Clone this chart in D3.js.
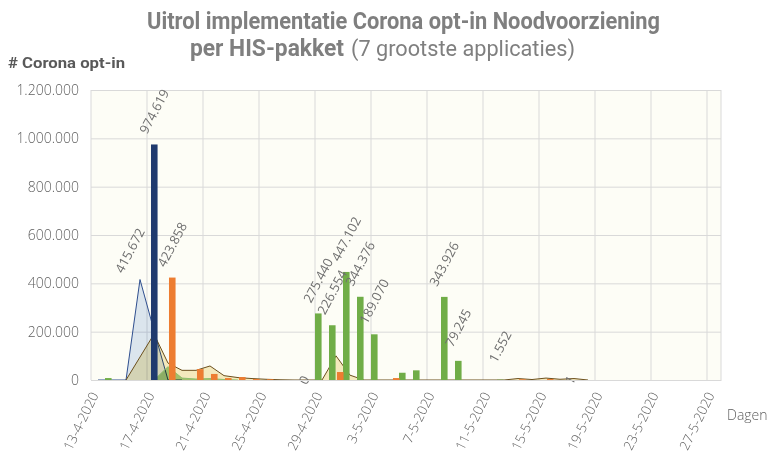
<!DOCTYPE html>
<html>
<head>
<meta charset="utf-8">
<script src="https://cdn.jsdelivr.net/npm/d3@7"></script>
<style>
  body { margin: 0; background: #ffffff; }
  svg { display: block; font-family: Roboto, "Open Sans", sans-serif; }
</style>
</head>
<body>
<svg id="chart" width="767" height="455"></svg>
<script>
// dagen op de x-as
var days = [
    "13-4-2020", "14-4-2020", "15-4-2020", "16-4-2020", "17-4-2020", "18-4-2020",
    "19-4-2020", "20-4-2020", "21-4-2020", "22-4-2020", "23-4-2020", "24-4-2020",
    "25-4-2020", "26-4-2020", "27-4-2020", "28-4-2020", "29-4-2020", "30-4-2020",
    "1-5-2020", "2-5-2020", "3-5-2020", "4-5-2020", "5-5-2020", "6-5-2020",
    "7-5-2020", "8-5-2020", "9-5-2020", "10-5-2020", "11-5-2020", "12-5-2020",
    "13-5-2020", "14-5-2020", "15-5-2020", "16-5-2020", "17-5-2020", "18-5-2020",
    "19-5-2020", "20-5-2020", "21-5-2020", "22-5-2020", "23-5-2020", "24-5-2020",
    "25-5-2020", "26-5-2020", "27-5-2020"
];
var tickDays = ["13-4-2020", "17-4-2020", "21-4-2020", "25-4-2020", "29-4-2020", "3-5-2020",
    "7-5-2020", "11-5-2020", "15-5-2020", "19-5-2020", "23-5-2020", "27-5-2020"];
var yTicks = [0, 200000, 400000, 600000, 800000, 1000000, 1200000];

// [dag, aantal, label: "boven" | "as"]
var blauwBars = [["17-4-2020", 974619, "boven"]];
var oranjeBars = [
    ["18-4-2020", 423858, "boven"], ["20-4-2020", 45000], ["21-4-2020", 25000],
    ["22-4-2020", 8000], ["23-4-2020", 12000], ["24-4-2020", 4000], ["25-4-2020", 3000],
    ["30-4-2020", 33000], ["4-5-2020", 8000], ["13-5-2020", 3000], ["15-5-2020", 4000]
];
var groenBars = [
    ["14-4-2020", 8000], ["28-4-2020", 0, "as"], ["29-4-2020", 275440, "boven"],
    ["30-4-2020", 226554, "boven"], ["1-5-2020", 447102, "boven"], ["2-5-2020", 344376, "boven"],
    ["3-5-2020", 189070, "boven"], ["5-5-2020", 30000], ["6-5-2020", 40000],
    ["8-5-2020", 343926, "boven"], ["9-5-2020", 79245, "boven"], ["12-5-2020", 1552, "boven"],
    ["17-5-2020", 1, "as"]
];
var lichtblauwArea = [
    ["13-4-2020", 0], ["14-4-2020", 0], ["15-4-2020", 0], ["16-4-2020", 415672, "boven"],
    ["17-4-2020", 205000], ["18-4-2020", 0], ["19-4-2020", 0]
];
var beigeArea = [
    ["15-4-2020", 0], ["16-4-2020", 95000], ["17-4-2020", 190000], ["18-4-2020", 70000],
    ["19-4-2020", 40000], ["20-4-2020", 40000], ["21-4-2020", 58000], ["22-4-2020", 18000],
    ["23-4-2020", 10000], ["24-4-2020", 6000], ["25-4-2020", 3000], ["26-4-2020", 1000],
    ["27-4-2020", 0], ["28-4-2020", 0], ["29-4-2020", 0], ["30-4-2020", 100000],
    ["1-5-2020", 20000], ["2-5-2020", 0], ["3-5-2020", 0], ["4-5-2020", 0],
    ["5-5-2020", 0], ["6-5-2020", 0], ["7-5-2020", 0], ["8-5-2020", 0], ["9-5-2020", 0],
    ["10-5-2020", 0], ["11-5-2020", 0], ["12-5-2020", 0], ["13-5-2020", 6000],
    ["14-5-2020", 2000], ["15-5-2020", 8000], ["16-5-2020", 3000], ["17-5-2020", 6000],
    ["18-5-2020", 0]
];
var groenArea = [
    ["17-4-2020", 0], ["18-4-2020", 55000], ["19-4-2020", 8000], ["20-4-2020", 4000],
    ["21-4-2020", 6000], ["22-4-2020", 2000], ["23-4-2020", 0]
];

var fmt = d3.formatLocale({decimal: ",", thousands: ".", grouping: [3], currency: ["€", ""]}).format(",d");

var svg = d3.select("#chart");
var plotLeft = 91, plotRight = 721, plotTop = 90, plotBottom = 380;

var x = d3.scaleBand().domain(days).range([plotLeft, plotRight]).padding(0);
var y = d3.scaleLinear().domain([0, 1200000]).range([plotBottom, plotTop]);
var bw = x.bandwidth();
var sub = d3.scalePoint().domain(["groen", "blauw", "oranje"]).range([0, bw * 0.57]);
var barW = bw * 0.47;

var toObj = function(d) { return {day: d[0], value: d[1], label: d[2]}; };

// plot achtergrond
svg.append("rect")
    .attr("x", plotLeft).attr("y", plotTop)
    .attr("width", plotRight - plotLeft).attr("height", plotBottom - plotTop)
    .attr("fill", "#fdfdf6");

// y as + horizontale rasterlijnen
var yAxis = svg.append("g")
    .attr("transform", "translate(" + plotLeft + ",0)")
    .call(d3.axisLeft(y).tickValues(yTicks).tickFormat(fmt).tickSize(-(plotRight - plotLeft)).tickPadding(12));
yAxis.select(".domain").remove();
yAxis.selectAll(".tick line").attr("stroke", "#d9d9d9");
yAxis.selectAll(".tick text")
    .attr("fill", "#5f5f5f").attr("font-size", 14)
    .attr("font-family", "'Open Sans', sans-serif").attr("font-weight", 300);

// verticale rasterlijnen
svg.append("g").selectAll("line")
    .data(tickDays.concat(["end"]))
    .join("line")
    .attr("x1", function(d) { return d === "end" ? plotRight : x(d); })
    .attr("x2", function(d) { return d === "end" ? plotRight : x(d); })
    .attr("y1", plotTop).attr("y2", plotBottom)
    .attr("stroke", "#d9d9d9");

// vlakken
var area = d3.area()
    .x(function(d) { return x(d.day) + bw / 2; })
    .y0(y(0))
    .y1(function(d) { return y(d.value); });

var areas = [
    {data: lichtblauwArea, fill: "#dde7f6", stroke: "#2f4f8f"},
    {data: beigeArea, fill: "#f6ebc3", stroke: "#6b4f1d"},
    {data: groenArea, fill: "#a9d18e", stroke: "#8fbf6e"}
];
var areaG = svg.append("g");
areas.forEach(function(s) {
    var pts = s.data.map(toObj);
    areaG.append("path")
        .datum(pts)
        .attr("d", area)
        .attr("fill", s.fill)
        .style("mix-blend-mode", "multiply");
    areaG.append("path")
        .datum(pts)
        .attr("d", area.lineY1())
        .attr("fill", "none")
        .attr("stroke", s.stroke)
        .attr("stroke-width", 1);
});

// staven
var bars = [
    {key: "groen", data: groenBars, color: "#70ad47"},
    {key: "blauw", data: blauwBars, color: "#1f3a6e"},
    {key: "oranje", data: oranjeBars, color: "#ed7d31"}
];
bars.forEach(function(s) {
    svg.append("g").selectAll("rect")
        .data(s.data.map(toObj))
        .join("rect")
        .attr("x", function(d) { return x(d.day) + sub(s.key); })
        .attr("y", function(d) { return y(d.value); })
        .attr("width", barW)
        .attr("height", function(d) { return y(0) - y(d.value); })
        .attr("fill", s.color);
});

// data labels, gecentreerd boven het punt
var labelG = svg.append("g")
    .attr("font-family", "'Open Sans', sans-serif")
    .attr("font-size", 13)
    .attr("fill", "#6f6f6f")
    .attr("text-anchor", "middle");
bars.forEach(function(s) {
    labelG.selectAll(null)
        .data(s.data.map(toObj).filter(function(d) { return d.label; }))
        .join("text")
        .attr("dy", "0.35em")
        .attr("transform", function(d) {
            var cx = x(d.day) + sub(s.key) + barW / 2;
            var cy = d.label === "as" ? y(0) : y(d.value) - 33;
            return "translate(" + cx + "," + cy + ") rotate(-62)";
        })
        .text(function(d) { return fmt(d.value); });
});
labelG.selectAll(null)
    .data(lichtblauwArea.map(toObj).filter(function(d) { return d.label; }))
    .join("text")
    .attr("dy", "0.35em")
    .attr("transform", function(d) {
        return "translate(" + (x(d.day) + bw / 2 - 10) + "," + (y(d.value) - 29) + ") rotate(-62)";
    })
    .text(function(d) { return fmt(d.value); });

// x as labels
var xAxis = svg.append("g")
    .attr("transform", "translate(0," + plotBottom + ")")
    .call(d3.axisBottom(x).tickValues(tickDays).tickSize(0).tickPadding(0));
xAxis.select(".domain").attr("stroke", "#d9d9d9");
xAxis.selectAll(".tick text")
    .attr("fill", "#5f5f5f").attr("font-size", 13.5)
    .attr("font-family", "'Open Sans', sans-serif").attr("font-weight", 300)
    .attr("text-anchor", "end")
    .attr("dy", 0)
    .attr("transform", "translate(1,15) rotate(-64)");

// titels
svg.append("text")
    .attr("x", 147).attr("y", 29)
    .attr("font-size", 23).attr("font-weight", "bold")
    .attr("textLength", 513).attr("lengthAdjust", "spacingAndGlyphs")
    .attr("fill", "#7f7f7f")
    .text("Uitrol implementatie Corona opt-in Noodvoorziening");
svg.append("text")
    .attr("x", 190).attr("y", 56)
    .attr("font-size", 23).attr("font-weight", "bold")
    .attr("textLength", 154).attr("lengthAdjust", "spacingAndGlyphs")
    .attr("fill", "#7f7f7f")
    .text("per HIS-pakket");
svg.append("text")
    .attr("x", 351).attr("y", 56)
    .attr("font-size", 22)
    .attr("textLength", 224).attr("lengthAdjust", "spacingAndGlyphs")
    .attr("fill", "#7f7f7f")
    .text("(7 grootste applicaties)");

svg.append("text")
    .attr("x", 8).attr("y", 68)
    .attr("font-size", 14).attr("font-weight", "bold")
    .attr("textLength", 117).attr("lengthAdjust", "spacingAndGlyphs")
    .attr("fill", "#595959")
    .text("# Corona opt-in");

svg.append("text")
    .attr("x", 727).attr("y", 420)
    .attr("font-size", 14)
    .attr("font-family", "'Open Sans', sans-serif").attr("font-weight", 300)
    .attr("fill", "#5f5f5f")
    .text("Dagen");
</script>
</body>
</html>
